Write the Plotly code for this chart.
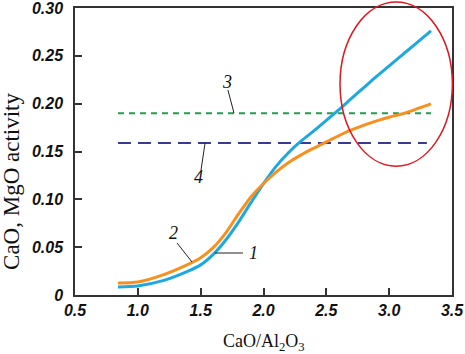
import plotly.graph_objects as go

# ---- data ----
ratio_1 = [0.842, 1.0, 1.2, 1.4, 1.5, 1.6, 1.7, 1.8, 1.9, 2.0, 2.1, 2.2, 2.3, 2.4, 2.5, 2.6, 2.7, 2.8, 2.9, 3.0, 3.1, 3.2, 3.333]
activity_1 = [0.0084, 0.0095, 0.0150, 0.0250, 0.0315, 0.0425, 0.0575, 0.0760, 0.0965, 0.1165, 0.1345, 0.1490, 0.1610,
              0.1715, 0.1825, 0.1937, 0.2055, 0.2170, 0.2285, 0.2395, 0.2505, 0.2615, 0.2760]

ratio_2 = [0.842, 1.0, 1.2, 1.4, 1.5, 1.6, 1.7, 1.8, 1.9, 2.0, 2.1, 2.2, 2.3, 2.4, 2.5, 2.6, 2.7, 2.8, 2.9, 3.0, 3.1, 3.2, 3.333]
activity_2 = [0.0125, 0.0135, 0.0210, 0.0320, 0.0390, 0.0495, 0.0650, 0.0845, 0.1025, 0.1165, 0.1285, 0.1385, 0.1465,
              0.1535, 0.1600, 0.1665, 0.1725, 0.1775, 0.1820, 0.1858, 0.1892, 0.1935, 0.1997]

ratio_3 = [0.842, 3.333]
activity_3 = [0.190, 0.190]

ratio_4 = [0.842, 3.30]
activity_4 = [0.159, 0.159]

x_ticks = [0.5, 1.0, 1.5, 2.0, 2.5, 3.0, 3.5]
x_tick_labels = ["0.5", "1.0", "1.5", "2.0", "2.5", "3.0", "3.5"]
y_ticks = [0, 0.05, 0.10, 0.15, 0.20, 0.25, 0.30]
y_tick_labels = ["0", "0.05", "0.10", "0.15", "0.20", "0.25", "0.30"]

x_title = "CaO/Al<sub>2</sub>O<sub>3</sub>"
y_title = "CaO, MgO activity"

# curve labels: (text, text x, text y, leader x0, y0, x1, y1)
curve_labels = [
    ("1", 1.87, 0.0439, 1.614, 0.0439, 1.837, 0.0439),
    ("2", 1.280, 0.0648, 1.312, 0.0544, 1.431, 0.0345),
    ("3", 1.710, 0.2226, 1.717, 0.2143, 1.765, 0.1902),
    ("4", 1.479, 0.1233, 1.503, 0.1307, 1.535, 0.1589),
]

fig = go.Figure()
fig.add_trace(go.Scatter(x=ratio_3, y=activity_3, mode="lines",
                         line=dict(color="#1f9e4b", width=2, dash="6px,5px"), showlegend=False))
fig.add_trace(go.Scatter(x=ratio_4, y=activity_4, mode="lines",
                         line=dict(color="#3a3a94", width=2, dash="13px,7px"), showlegend=False))
fig.add_trace(go.Scatter(x=ratio_1, y=activity_1, mode="lines",
                         line=dict(color="#1ea8e0", width=3, shape="spline", smoothing=0.7), showlegend=False))
fig.add_trace(go.Scatter(x=ratio_2, y=activity_2, mode="lines",
                         line=dict(color="#f7901e", width=3, shape="spline", smoothing=0.7), showlegend=False))

shapes = []
annotations = []
for txt, tx, ty, lx0, ly0, lx1, ly1 in curve_labels:
    shapes.append(dict(type="line", xref="x", yref="y", x0=lx0, y0=ly0, x1=lx1, y1=ly1,
                       line=dict(color="#222222", width=1)))
    annotations.append(dict(x=tx, y=ty, xref="x", yref="y", text=txt, showarrow=False,
                            xanchor="left" if txt == "1" else "center", yanchor="middle",
                            font=dict(family="Liberation Serif", size=18, color="#111111", style="italic")))

# red ellipse highlighting the region
shapes.append(dict(type="circle", xref="paper", yref="paper", x0=0.703, x1=1.001, y0=0.449, y1=1.021,
                   line=dict(color="#e3141e", width=1.5), layer="above"))

annotations.append(dict(x=-0.167, y=0.394, xref="paper", yref="paper", text=y_title,
                        textangle=-90, showarrow=False, xanchor="center", yanchor="middle",
                        font=dict(family="Liberation Serif", size=23, color="#111111")))
annotations.append(dict(x=0.5, y=-0.167, xref="paper", yref="paper", text=x_title,
                        showarrow=False, xanchor="center", yanchor="middle",
                        font=dict(family="Liberation Serif", size=18, color="#111111")))

tick_font = dict(family="Liberation Sans", size=16, color="#111111", style="italic", weight="bold")

fig.update_layout(
    width=465, height=354,
    margin=dict(l=75, r=13, t=8, b=59, autoexpand=False),
    paper_bgcolor="white", plot_bgcolor="white",
    shapes=shapes, annotations=annotations,
    xaxis=dict(range=[0.5, 3.5], tickvals=x_ticks, ticktext=x_tick_labels,
               ticks="inside", ticklen=7, tickwidth=1.5, tickcolor="#333333",
               showline=True, linecolor="#333333", linewidth=1.5, mirror=True,
               showgrid=False, zeroline=False, ticklabelstandoff=0, automargin=False,
               ticklabeloverflow="allow", tickfont=tick_font),
    yaxis=dict(range=[0, 0.30], tickvals=y_ticks, ticktext=y_tick_labels,
               ticks="inside", ticklen=7, tickwidth=1.5, tickcolor="#333333",
               showline=True, linecolor="#333333", linewidth=1.5, mirror=True,
               showgrid=False, zeroline=False, ticklabelstandoff=7, automargin=False,
               ticklabeloverflow="allow", tickfont=tick_font),
)

fig.write_html("out.html")
